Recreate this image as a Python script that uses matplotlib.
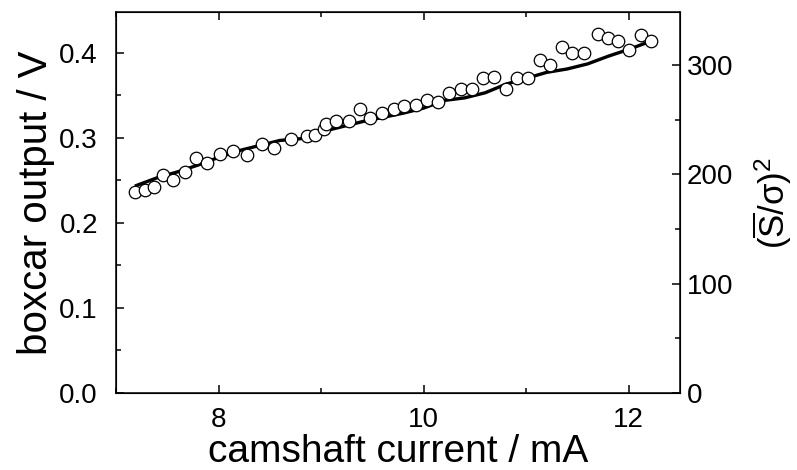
import numpy as np
import matplotlib
matplotlib.use("Agg")
import matplotlib.pyplot as plt
from matplotlib.ticker import MultipleLocator

plt.rcParams['font.family'] = ['Liberation Sans', 'DejaVu Sans']
plt.rcParams['mathtext.fontset'] = 'custom'
plt.rcParams['mathtext.rm'] = 'Liberation Sans'
plt.rcParams['mathtext.it'] = 'Liberation Sans:italic'
plt.rcParams['mathtext.sf'] = 'Liberation Sans'

# measured points (boxcar output)
current_pts = [7.19, 7.28, 7.37, 7.46, 7.56, 7.67, 7.78, 7.89, 8.01, 8.14,
               8.28, 8.42, 8.54, 8.71, 8.86, 8.94, 9.03, 9.05, 9.15, 9.27,
               9.38, 9.48, 9.59, 9.71, 9.81, 9.93, 10.03, 10.14, 10.25, 10.36,
               10.47, 10.58, 10.69, 10.80, 10.91, 11.02, 11.13, 11.23, 11.35, 11.45,
               11.56, 11.70, 11.80, 11.90, 12.00, 12.12, 12.22]
boxcar_pts = [0.236, 0.239, 0.242, 0.256, 0.251, 0.260, 0.276, 0.271, 0.281, 0.285,
              0.280, 0.293, 0.288, 0.299, 0.302, 0.303, 0.310, 0.316, 0.320, 0.320,
              0.334, 0.323, 0.329, 0.334, 0.338, 0.339, 0.345, 0.342, 0.353, 0.357,
              0.357, 0.370, 0.372, 0.358, 0.370, 0.370, 0.391, 0.386, 0.407, 0.400,
              0.400, 0.422, 0.417, 0.414, 0.403, 0.421, 0.414]

# (S/sigma)^2 curve, drawn in the same units as the left axis
current_line = [7.2, 7.4, 7.6, 7.8, 8.0, 8.2, 8.4, 8.6, 8.8, 9.0, 9.2, 9.4, 9.6,
                9.8, 10.0, 10.2, 10.4, 10.6, 10.8, 11.0, 11.2, 11.4, 11.6, 11.8,
                12.0, 12.2]
snr_line = [0.244, 0.253, 0.260, 0.268, 0.277, 0.285, 0.291, 0.297, 0.299, 0.307,
            0.313, 0.319, 0.324, 0.329, 0.335, 0.344, 0.347, 0.353, 0.363, 0.370,
            0.377, 0.381, 0.387, 0.396, 0.404, 0.413]

fig = plt.figure(figsize=(7.97, 4.70), dpi=100)
ax = fig.add_axes([0.1455, 0.1638, 0.7077, 0.8107])

ax.plot(current_line, snr_line, color='black', lw=2.4, zorder=2)
ax.plot(current_pts, boxcar_pts, 'o', ms=9, mfc='white', mec='black', mew=0.9, zorder=3)

ax.set_xlim(7.0, 12.5)
ax.set_ylim(0, 0.448)
ax.xaxis.set_major_locator(MultipleLocator(2))
ax.xaxis.set_minor_locator(MultipleLocator(1))
ax.yaxis.set_major_locator(MultipleLocator(0.1))
ax.yaxis.set_minor_locator(MultipleLocator(0.05))
ax.set_xticks([8, 10, 12])
ax.set_yticks([0.0, 0.1, 0.2, 0.3, 0.4])
ax.set_yticklabels(['0.0', '0.1', '0.2', '0.3', '0.4'])
ax.tick_params(which='both', direction='in', top=True, right=False, labelsize=20, width=1.1)
ax.tick_params(which='major', length=6)
ax.tick_params(which='minor', length=3.4)
ax.tick_params(axis='x', pad=10)
ax.tick_params(axis='y', pad=13)
for s in ax.spines.values():
    s.set_linewidth(1.1)

ax.set_xlabel('camshaft current / mA', fontsize=28, labelpad=1)
ax.set_ylabel('boxcar output / V', fontsize=29, labelpad=3)

ax2 = ax.twinx()
ax2.set_ylim(0, 348.6)
ax2.yaxis.set_major_locator(MultipleLocator(100))
ax2.yaxis.set_minor_locator(MultipleLocator(50))
ax2.tick_params(which='both', direction='in', labelsize=20, width=1.1, pad=5)
ax2.tick_params(which='major', length=6)
ax2.tick_params(which='minor', length=3.4)
ax2.set_ylabel(r'$(\overline{\mathrm{S}}/\mathrm{\sigma})^2$', fontsize=25, labelpad=12)

fig.savefig('out.png', dpi=100)
